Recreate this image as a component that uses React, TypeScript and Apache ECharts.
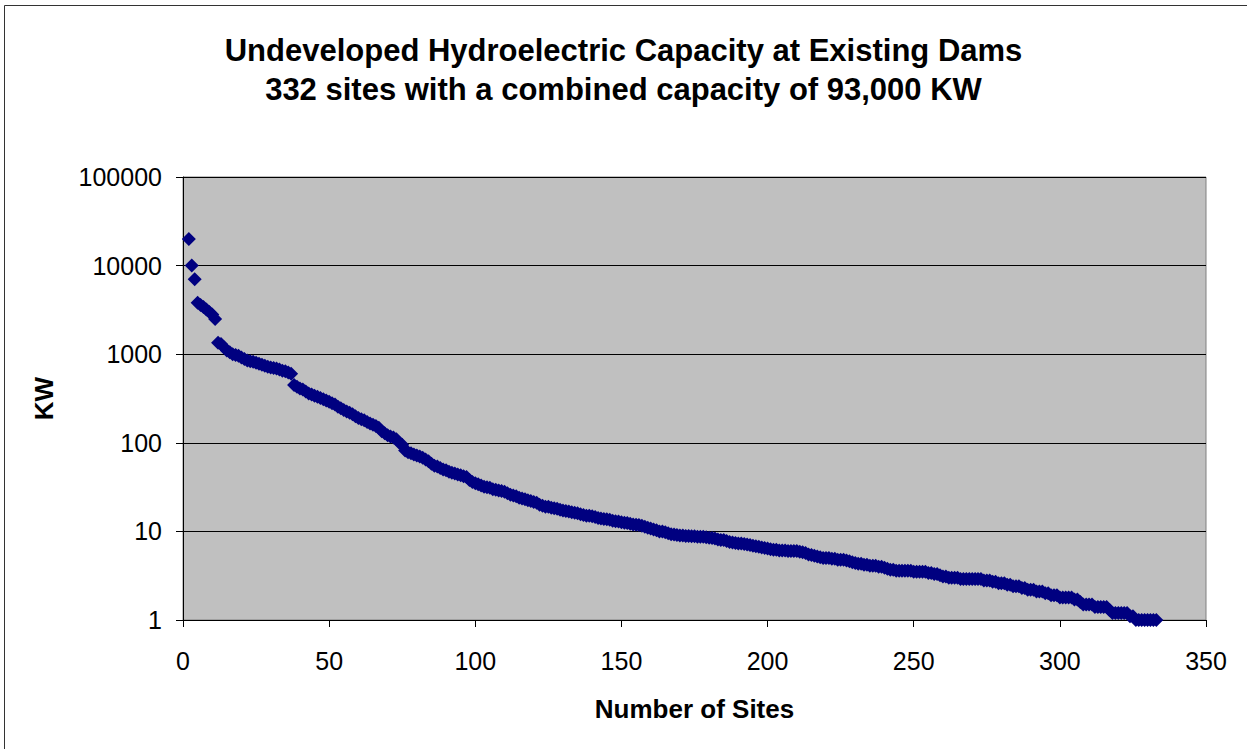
import React, { useEffect, useRef } from "react";
import * as echarts from "echarts";

const titleLines = [
  "Undeveloped Hydroelectric Capacity at Existing Dams",
  "332 sites with a combined capacity of 93,000 KW",
];
const xAxisName = "Number of Sites";
const yAxisName = "KW";
const firstSite = 2;

// KW per site, ranked largest to smallest (sites 2..333 on the x axis)
const kwSites2to51 = [
  20000, 10000, 7000, 3800, 3600, 3400, 3200, 3000, 2800, 2500,
  1350, 1300, 1200, 1100, 1050, 1000, 980, 960, 920, 880,
  850, 830, 820, 800, 780, 760, 740, 720, 710, 700,
  690, 670, 650, 640, 620, 600, 450, 430, 410, 400,
  380, 360, 350, 340, 330, 320, 310, 300, 290, 280,
];
const kwSites52to101 = [
  270, 255, 245, 235, 225, 218, 210, 200, 190, 185,
  180, 172, 165, 160, 155, 148, 135, 128, 122, 118,
  115, 110, 100, 95, 82, 78, 76, 74, 72, 70,
  68, 65, 62, 58, 55, 54, 52, 50, 49, 47,
  46, 45, 44, 43, 42, 41, 38, 36, 35, 34,
];
const kwSites102to151 = [
  33, 32, 31.5, 31, 30, 29.5, 29, 28.5, 28, 27,
  26, 25.5, 25, 24, 23.5, 23, 22.5, 22, 21.5, 21,
  20, 19.5, 19, 19, 18.5, 18.2, 18, 17.5, 17.2, 17,
  16.8, 16.5, 16.2, 16, 15.6, 15.3, 15, 15, 14.8, 14.5,
  14.2, 14, 13.8, 13.7, 13.5, 13.2, 13, 12.9, 12.7, 12.5,
];
const kwSites152to201 = [
  12.4, 12.2, 12, 11.9, 11.8, 11.6, 11.3, 11, 10.8, 10.5,
  10.3, 10, 10, 9.8, 9.5, 9.3, 9.2, 9.1, 9, 9,
  8.9, 8.9, 8.8, 8.8, 8.7, 8.7, 8.7, 8.6, 8.5, 8.4,
  8.3, 8.1, 8, 8, 7.8, 7.6, 7.5, 7.4, 7.3, 7.3,
  7.2, 7.1, 7, 6.9, 6.8, 6.7, 6.6, 6.5, 6.4, 6.3,
];
const kwSites202to251 = [
  6.2, 6.2, 6.1, 6.1, 6.1, 6, 6, 6, 6, 5.9,
  5.8, 5.7, 5.5, 5.4, 5.3, 5.2, 5.1, 5, 5, 5,
  4.9, 4.9, 4.8, 4.8, 4.8, 4.7, 4.6, 4.5, 4.4, 4.3,
  4.3, 4.2, 4.2, 4.1, 4.1, 4.1, 4, 4, 3.9, 3.8,
  3.7, 3.7, 3.6, 3.6, 3.6, 3.6, 3.6, 3.6, 3.5, 3.5,
];
const kwSites252to301 = [
  3.5, 3.5, 3.5, 3.4, 3.4, 3.3, 3.3, 3.2, 3.1, 3.1,
  3, 3, 3, 3, 2.9, 2.9, 2.9, 2.9, 2.9, 2.9,
  2.9, 2.9, 2.8, 2.8, 2.8, 2.7, 2.7, 2.6, 2.6, 2.6,
  2.5, 2.5, 2.4, 2.4, 2.4, 2.3, 2.3, 2.2, 2.2, 2.2,
  2.1, 2.1, 2.1, 2, 2, 1.9, 1.9, 1.9, 1.8, 1.8,
];
const kwSites302to333 = [
  1.8, 1.8, 1.8, 1.7, 1.7, 1.6, 1.5, 1.5, 1.5, 1.5,
  1.4, 1.4, 1.4, 1.4, 1.4, 1.3, 1.2, 1.2, 1.2, 1.2,
  1.2, 1.2, 1.1, 1.1, 1, 1, 1, 1, 1, 1,
  1, 1,
];

const kwValues = [
  ...kwSites2to51,
  ...kwSites52to101,
  ...kwSites102to151,
  ...kwSites152to201,
  ...kwSites202to251,
  ...kwSites252to301,
  ...kwSites302to333,
];

const FONT = "'Liberation Sans', Arial, sans-serif";

export default function App() {
  const ref = useRef<HTMLDivElement>(null);

  useEffect(() => {
    if (!ref.current) return;
    const chart = echarts.init(ref.current, undefined, { renderer: "svg" });
    const data = kwValues.map((v, i) => [i + firstSite, v]);
    chart.setOption({
      animation: false,
      backgroundColor: "#ffffff",
      textStyle: { fontFamily: FONT },
      title: {
        text: titleLines.join("\n"),
        left: "center",
        top: 26,
        textStyle: {
          fontFamily: FONT,
          fontSize: 31,
          fontWeight: "bold",
          color: "#000000",
          lineHeight: 39,
        },
      },
      graphic: [
        {
          type: "rect",
          shape: { x: 4.5, y: 5.5, width: 1270, height: 780 },
          style: { fill: "none", stroke: "#333333", lineWidth: 1 },
          silent: true,
          z: 100,
        },
      ],
      grid: {
        left: 183,
        right: 41,
        top: 177,
        bottom: 129,
        show: true,
        backgroundColor: "#C0C0C0",
        borderColor: "#808080",
        borderWidth: 1,
      },
      xAxis: {
        type: "value",
        min: 0,
        max: 350,
        interval: 50,
        name: xAxisName,
        nameLocation: "middle",
        nameGap: 76,
        nameTextStyle: {
          fontFamily: FONT,
          fontSize: 26,
          fontWeight: "bold",
          color: "#000000",
        },
        axisLine: { show: true, lineStyle: { color: "#000000", width: 1 } },
        axisTick: {
          show: true,
          inside: false,
          length: 7,
          lineStyle: { color: "#000000" },
        },
        axisLabel: {
          fontFamily: FONT,
          fontSize: 25,
          color: "#000000",
          margin: 28,
        },
        splitLine: { show: false },
      },
      yAxis: {
        type: "log",
        logBase: 10,
        min: 1,
        max: 100000,
        name: yAxisName,
        nameLocation: "middle",
        nameRotate: 90,
        nameGap: 126,
        nameTextStyle: {
          fontFamily: FONT,
          fontSize: 26,
          fontWeight: "bold",
          color: "#000000",
        },
        axisLine: { show: true, lineStyle: { color: "#000000", width: 1 } },
        axisTick: {
          show: true,
          inside: false,
          length: 7,
          lineStyle: { color: "#000000" },
        },
        axisLabel: {
          fontFamily: FONT,
          fontSize: 25,
          color: "#000000",
          margin: 21,
          formatter: (v: number) => String(Math.round(v)),
        },
        splitLine: {
          show: true,
          lineStyle: { color: "#000000", width: 1, type: "solid" },
        },
        minorTick: { show: false },
      },
      series: [
        {
          type: "scatter",
          data,
          symbol: "diamond",
          symbolSize: 14,
          clip: false,
          itemStyle: { color: "#000080", opacity: 1 },
        },
      ],
    });
    return () => chart.dispose();
  }, []);

  return (
    <div
      ref={ref}
      style={{
        position: "absolute",
        left: 0,
        top: 0,
        width: 1247,
        height: 749,
        background: "#ffffff",
      }}
    />
  );
}
